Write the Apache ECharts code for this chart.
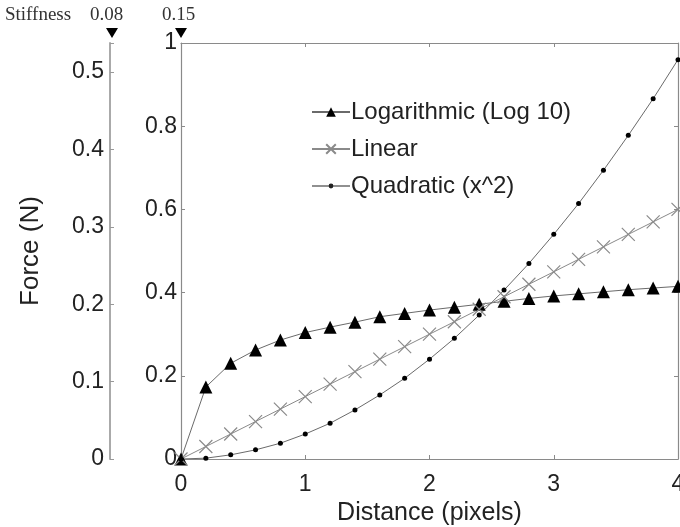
<!DOCTYPE html>
<html>
<head>
<meta charset="utf-8">
<script src="https://cdn.jsdelivr.net/npm/echarts@6/dist/echarts.min.js"></script>
<style>
  html, body { margin: 0; padding: 0; background: #fff; }
  #chart { width: 680px; height: 527px; }
</style>
</head>
<body>
<div id="chart"></div>
<script>
// distance samples (pixels)
const distance = [0, 0.2, 0.4, 0.6, 0.8, 1.0, 1.2, 1.4, 1.6, 1.8, 2.0, 2.2, 2.4, 2.6, 2.8, 3.0, 3.2, 3.4, 3.6, 3.8, 4.0]

// values (left inner axis, 0..1)
const logValues = [0, 0.173, 0.23, 0.262, 0.286, 0.304, 0.317, 0.329, 0.342, 0.35, 0.358, 0.365, 0.372, 0.379, 0.386, 0.392, 0.397, 0.402, 0.407, 0.411, 0.415]
const linValues = [0, 0.03, 0.06, 0.09, 0.12, 0.15, 0.18, 0.21, 0.24, 0.27, 0.30, 0.33, 0.36, 0.39, 0.42, 0.45, 0.48, 0.51, 0.54, 0.57, 0.60]
const quadValues = [0, 0.002, 0.01, 0.022, 0.038, 0.06, 0.086, 0.118, 0.154, 0.194, 0.24, 0.29, 0.346, 0.406, 0.47, 0.54, 0.614, 0.694, 0.778, 0.866, 0.96]

const seriesNames = ['Logarithmic (Log 10)', 'Linear', 'Quadratic (x^2)']
const stiffnessLabels = ['0.08', '0.15']

const font = 'Liberation Sans, Arial, sans-serif'
const serif = '"Liberation Serif", serif'
const axisGrey = '#8a8a8a'
const textColor = '#222'

const chart = echarts.init(document.getElementById('chart'))

const pairs = vals => distance.map((d, i) => [d, vals[i]])

// legend icon for the quadratic series: thin line with a small dot
const dotLineIcon = 'path://M0,5.5L38,5.5L38,6.5L0,6.5Z M19,3.6A2.4,2.4 0 1 1 18.99,3.6Z'

const mainAxisBase = {
  axisLine: { show: true, onZero: false, lineStyle: { color: axisGrey, width: 1.2 } },
  axisTick: { show: true, inside: true, length: 4, lineStyle: { color: axisGrey } },
  splitLine: { show: false },
  axisLabel: { color: textColor, fontFamily: font, fontSize: 23 }
}

const option = {
  animation: false,
  backgroundColor: '#fff',
  grid: { left: 181, right: 2, top: 43, bottom: 68, containLabel: false, outerBoundsMode: 'none' },
  legend: {
    orient: 'vertical',
    left: 306,
    top: 95,
    itemWidth: 38,
    itemHeight: 12,
    itemGap: 13,
    textStyle: { color: textColor, fontFamily: font, fontSize: 24, padding: [0, 0, 0, -4] },
    data: [
      { name: seriesNames[0] },
      { name: seriesNames[1] },
      { name: seriesNames[2], icon: dotLineIcon, itemStyle: { color: '#222' } }
    ]
  },
  xAxis: [
    Object.assign({}, mainAxisBase, {
      type: 'value', min: 0, max: 4, interval: 1,
      name: 'Distance (pixels)', nameLocation: 'middle', nameGap: 40,
      nameTextStyle: { color: textColor, fontFamily: font, fontSize: 25 },
      axisLabel: { color: textColor, fontFamily: font, fontSize: 23, margin: 14 }
    }),
    Object.assign({}, mainAxisBase, {
      type: 'value', min: 0, max: 4, interval: 1, position: 'top',
      axisLabel: { show: false }
    })
  ],
  yAxis: [
    Object.assign({}, mainAxisBase, {
      type: 'value', min: 0, max: 1, interval: 0.2,
      axisLabel: { color: textColor, fontFamily: font, fontSize: 23, margin: 4 }
    }),
    Object.assign({}, mainAxisBase, {
      type: 'value', min: 0, max: 1, interval: 0.2, position: 'right',
      axisLabel: { show: false }
    }),
    {
      type: 'value', min: 0, max: 0.5375, interval: 0.1,
      position: 'left', offset: 71,
      name: 'Force (N)', nameLocation: 'middle', nameGap: 66,
      nameTextStyle: { color: textColor, fontFamily: font, fontSize: 26 },
      axisLine: { show: true, onZero: false, lineStyle: { color: '#aaa', width: 2 } },
      axisTick: { show: true, inside: true, length: 4, lineStyle: { color: '#999' } },
      splitLine: { show: false },
      axisLabel: {
        color: textColor, fontFamily: font, fontSize: 23, margin: 6,
        formatter: v => (v > 0.51 ? '' : (Math.round(v * 10) / 10).toString())
      }
    }
  ],
  series: [
    {
      name: seriesNames[0], type: 'line', data: pairs(logValues),
      symbol: 'triangle', symbolSize: 13,
      lineStyle: { color: '#6a6a6a', width: 1 },
      itemStyle: { color: '#000' }
    },
    {
      name: seriesNames[1], type: 'line', data: pairs(linValues),
      symbol: 'path://M0,0L10,10M10,0L0,10', symbolSize: 13,
      lineStyle: { color: '#8a8a8a', width: 1 },
      itemStyle: { color: 'none', borderColor: '#8a8a8a', borderWidth: 1.2 }
    },
    {
      name: seriesNames[2], type: 'line', data: pairs(quadValues),
      symbol: 'circle', symbolSize: 5,
      lineStyle: { color: '#6a6a6a', width: 1 },
      itemStyle: { color: '#000' }
    }
  ],
  graphic: [
    { type: 'text', left: 5, top: 6, style: { text: 'Stiffness', fill: '#333', font: '19px ' + serif } },
    { type: 'text', left: 90, top: 6, style: { text: stiffnessLabels[0], fill: '#333', font: '19px ' + serif } },
    { type: 'text', left: 162, top: 6, style: { text: stiffnessLabels[1], fill: '#333', font: '19px ' + serif } },
    { type: 'polygon', shape: { points: [[106, 28], [118, 28], [112, 38]] }, style: { fill: '#000' } },
    { type: 'polygon', shape: { points: [[175, 28], [187, 28], [181, 38]] }, style: { fill: '#000' } }
  ]
}

chart.setOption(option)
</script>
</body>
</html>
